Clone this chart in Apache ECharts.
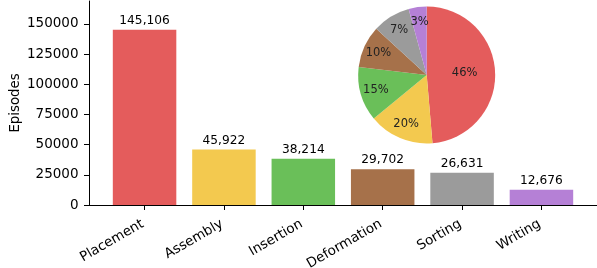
<!DOCTYPE html>
<html><head><meta charset="utf-8">
<script src="https://cdn.jsdelivr.net/npm/echarts@6/dist/echarts.min.js"></script>
<style>html,body{margin:0;padding:0;background:#fff}#c{width:597px;height:268px}</style>
</head><body><div id="c"></div>
<script>
const categories = ['Placement','Assembly','Insertion','Deformation','Sorting','Writing'];
const episodes = [145106, 45922, 38214, 29702, 26631, 12676];
const pieLabels = ['46%','20%','15%','10%','7%','3%'];
const yTicks = [0, 25000, 50000, 75000, 100000, 125000, 150000];
const xTicks = [0, 1, 2, 3, 4, 5];
const colors = ['#e45c5c','#f3c94f','#6abf59','#a6714a','#9b9b9b','#b580d6'];

const font = 'DejaVu Sans';
const chart = echarts.init(document.getElementById('c'), null, {renderer: 'canvas'});
const gridLeft = 89, gridRight = 0, gridTop = 1, gridBottom = 63;
const xMin = -0.7, xMax = 5.7, yMax = 169000;
const plotW = 597 - gridLeft - gridRight;
const barW = plotW / (xMax - xMin) * 0.8;
const pieC = [426.7, 75], pieR = 68.5;

const pieBase = {
  type: 'pie', center: pieC, startAngle: 90, clockwise: true, silent: true,
  avoidLabelOverlap: false, labelLine: {show: false}, emphasis: {disabled: true}
};

chart.setOption({
  animation: false,
  backgroundColor: '#fff',
  grid: {left: gridLeft, right: gridRight, top: gridTop, bottom: gridBottom, outerBoundsMode: 'none'},
  xAxis: {
    type: 'value', min: xMin, max: xMax,
    splitLine: {show: false},
    axisLine: {show: true, onZero: false, lineStyle: {color: '#000', width: 1}},
    axisTick: {show: true, customValues: xTicks, length: 5, lineStyle: {color: '#000', width: 1}},
    axisLabel: {
      customValues: xTicks, formatter: v => categories[v], rotate: 30, margin: 17,
      padding: [0, 2, 0, 0],
      color: '#000', fontFamily: font, fontSize: 13.5
    }
  },
  yAxis: {
    type: 'value', min: 0, max: yMax,
    name: 'Episodes', nameLocation: 'middle', nameGap: 67, nameRotate: 90,
    nameMoveOverlap: false,
    nameTextStyle: {color: '#000', fontFamily: font, fontSize: 13.3},
    splitLine: {show: false},
    axisLine: {show: true, onZero: false, lineStyle: {color: '#000', width: 1}},
    axisTick: {show: true, customValues: yTicks, length: 5, lineStyle: {color: '#000', width: 1}},
    axisLabel: {
      customValues: yTicks, formatter: v => String(v), margin: 10.5,
      color: '#000', fontFamily: font, fontSize: 13.5
    }
  },
  series: [
    {
      type: 'bar', barWidth: barW, silent: true,
      data: episodes.map((v, i) => ({value: [xTicks[i], v], itemStyle: {color: colors[i]}})),
      label: {
        show: true, position: 'top', distance: 3,
        formatter: p => p.value[1].toLocaleString('en-US'),
        color: '#000', fontFamily: font, fontSize: 12.2
      }
    },
    Object.assign({}, pieBase, {
      radius: pieR,
      data: episodes.map((v, i) => ({value: v, name: categories[i], itemStyle: {color: colors[i]}})),
      label: {show: false}
    }),
    Object.assign({}, pieBase, {
      radius: [0.46 * pieR, pieR],
      data: episodes.map((v, i) => ({
        value: v, name: categories[i],
        itemStyle: {color: 'rgba(0,0,0,0)'},
        label: {show: i !== 0}
      })),
      label: {
        position: 'inside', formatter: p => pieLabels[p.dataIndex],
        color: '#222', fontFamily: font, fontSize: 11.5
      }
    }),
    Object.assign({}, pieBase, {
      radius: [0.02 * pieR, pieR],
      data: episodes.map((v, i) => ({
        value: v, name: categories[i],
        itemStyle: {color: 'rgba(0,0,0,0)'},
        label: {show: i === 0}
      })),
      label: {
        position: 'inside', formatter: p => pieLabels[p.dataIndex],
        color: '#222', fontFamily: font, fontSize: 11.5
      }
    })
  ]
});
</script>
</body></html>
